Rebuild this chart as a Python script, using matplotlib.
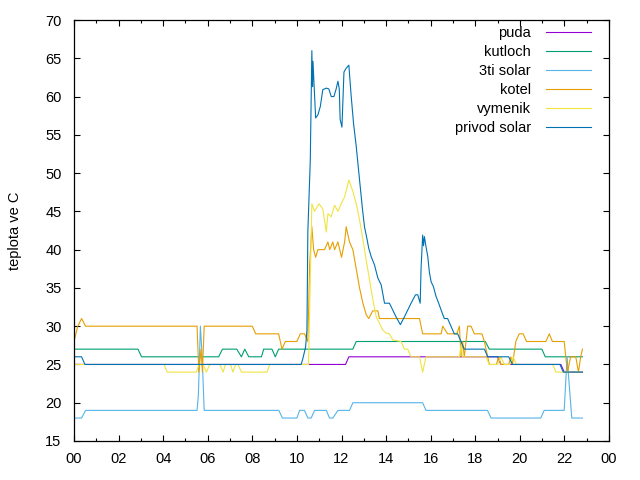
import matplotlib
matplotlib.use("Agg")
import matplotlib.pyplot as plt
from matplotlib.ticker import MultipleLocator

plt.rcParams['font.family'] = ['Liberation Sans', 'DejaVu Sans']

# ---- data (hour of day, temperature in C) ----
puda_t = [0, 12.18, 12.33, 19.0, 19.15, 21.84, 21.99, 22.81]
puda_v = [25, 25, 26, 26, 25, 25, 24, 24]

kutloch_t = [0, 2.87, 3.03, 6.49, 6.66, 7.30, 7.51, 7.66, 7.84, 8.41, 8.51, 8.88, 9.03, 9.18,
             12.51, 12.66, 18.45, 18.63, 20.99, 21.14, 22.81]
kutloch_v = [27, 27, 26, 26, 27, 27, 26, 27, 26, 26, 27, 27, 26, 27,
             27, 28, 28, 27, 27, 26, 26]

solar3_t = [0, 0.34, 0.52, 5.52, 5.58, 5.67, 5.75, 5.84, 9.19, 9.35, 10.0, 10.12, 10.34, 10.49,
            10.64, 10.79, 11.32, 11.46, 11.61, 11.84, 12.36, 12.51, 15.64, 15.79, 18.55, 18.71,
            20.94, 21.09, 21.99, 22.12, 22.33, 22.81]
solar3_v = [18, 18, 19, 19, 21, 30, 26, 19, 19, 18, 18, 19, 19, 18,
            18, 19, 19, 18, 18, 19, 19, 20, 20, 19, 19, 18,
            18, 19, 19, 26, 18, 18]

kotel_t = [0, 0.17, 0.34, 0.52, 5.52, 5.6, 5.7, 5.76, 5.84, 8.0, 8.15, 9.18, 9.33, 9.48,
           10.0, 10.15, 10.34, 10.49, 10.57, 10.67, 10.75, 10.84, 10.94, 11.24, 11.39, 11.47,
           11.61, 11.69, 11.84, 12.0, 12.14, 12.21, 12.36, 12.51, 12.66, 12.81, 12.96, 13.11,
           13.22, 13.4, 13.63, 13.7, 15.5, 15.64, 16.47, 16.54, 16.76, 17.17, 17.29, 17.36,
           17.43, 17.51, 17.66, 17.81, 17.96, 18.3, 18.41, 18.63, 18.95, 19.05, 19.15, 19.5,
           19.6, 19.67, 19.82, 19.97, 20.15, 20.3, 21.17, 21.32, 21.46, 21.99, 22.06, 22.14,
           22.28, 22.51, 22.63, 22.73, 22.81]
kotel_v = [28, 30, 31, 30, 30, 24, 27, 24, 30, 30, 29, 29, 27, 28,
           28, 29, 29, 28, 38, 43, 40, 39, 40, 40, 41, 40,
           41, 40, 41, 39, 41, 43, 41, 40, 37.5, 35, 33, 31.5,
           31, 32, 32, 31, 31, 29, 29, 30, 29, 29, 30, 26,
           28, 26, 30, 30, 29, 29, 28, 25, 25, 26, 25, 25,
           26, 25, 28, 29, 29, 28, 28, 29, 28, 28, 26, 24,
           26, 26, 24, 26, 27]

vymenik_t = [0, 4.04, 4.18, 5.49, 5.6, 5.79, 5.94, 6.09, 6.54, 6.69, 6.79, 7.02, 7.13, 7.25,
             7.36, 7.51, 8.66, 8.78, 10.52, 10.67, 10.79, 10.99, 11.16, 11.32, 11.39, 11.54,
             11.69, 11.84, 11.99, 12.14, 12.33, 12.51, 12.66, 12.81, 12.96, 13.11, 13.26, 13.41,
             13.56, 13.7, 13.85, 14.0, 14.15, 14.3, 14.67, 14.82, 14.97, 15.12, 15.5, 15.64,
             15.79, 17.29, 17.36, 17.43, 18.48, 18.63, 19.0, 19.15, 19.3, 19.55, 19.7, 19.85,
             21.47, 21.62, 22.81]
vymenik_v = [25, 25, 24, 24, 25, 25, 24, 25, 25, 24, 25, 25, 24, 25,
             25, 24, 24, 25, 25, 46, 45, 46, 45.3, 42.3, 44.7, 44.3,
             45.8, 45, 46, 46.9, 49.1, 47.6, 46, 43.9, 41.3, 38.6, 36, 33.4,
             31.2, 30.4, 29.5, 29.1, 29, 28.2, 28, 27, 27, 26, 26, 24,
             26, 26, 27.5, 26, 26, 25, 25, 26, 25, 25, 26, 25,
             25, 24, 24]

privod_t = [0, 0.34, 0.49, 10.19, 10.27, 10.39, 10.45, 10.49, 10.6, 10.67, 10.7, 10.72, 10.84,
            10.94, 11.05, 11.16, 11.32, 11.43, 11.54, 11.66, 11.76, 11.84, 11.9, 11.94, 12.02,
            12.11, 12.21, 12.33, 12.43, 12.54, 12.66, 12.81, 12.93, 13.03, 13.15, 13.22, 13.33,
            13.48, 13.63, 13.78, 13.93, 14.15, 14.3, 14.45, 14.64, 14.82, 14.97, 15.12, 15.32,
            15.42, 15.53, 15.57, 15.64, 15.68, 15.72, 15.79, 15.87, 15.94, 16.02, 16.12, 16.24,
            16.36, 16.47, 16.61, 16.76, 16.91, 17.06, 17.21, 17.36, 17.51, 18.41, 18.56, 19.5,
            19.67, 21.8, 21.95, 22.81]
privod_v = [26, 26, 25, 25, 25.8, 27.3, 29.5, 42.3, 51.7, 66, 61.3, 64.6, 57.2,
            57.6, 58.7, 60.9, 61.1, 61, 60, 60, 61, 62, 61, 57, 56,
            63.2, 63.7, 64.1, 60.2, 56.5, 53.5, 49.1, 45.6, 43, 41.3, 40.2, 39.1,
            38, 36.3, 35.4, 33, 33, 32.1, 31.2, 30.2, 31.2, 32.1, 33, 34.1,
            34.1, 33, 37.6, 41.9, 40.5, 41.7, 40.4, 39.1, 37.1, 35.8, 35.2, 33.9,
            33, 32.1, 31, 31, 30, 29, 29, 28, 27, 27, 26, 26,
            25, 25, 24, 24]

labels = ["puda", "kutloch", "3ti solar", "kotel", "vymenik", "privod solar"]
colors = ["#9400d3", "#009e73", "#56b4e9", "#e69f00", "#f0e442", "#0072b2"]
series = [(puda_t, puda_v), (kutloch_t, kutloch_v), (solar3_t, solar3_v),
          (kotel_t, kotel_v), (vymenik_t, vymenik_v), (privod_t, privod_v)]

xtick_hours = list(range(0, 25, 2))
xtick_labels = [f"{h % 24:02d}" for h in xtick_hours]

fig = plt.figure(figsize=(6.4, 4.8), dpi=100)
ax = fig.add_axes([74 / 640, 1 - 441 / 480, 535 / 640, 421 / 480])

for (t, v), lab, c in zip(series, labels, colors):
    ax.plot(t, v, color=c, lw=0.8, label=lab)

ax.set_xlim(0, 24)
ax.set_ylim(15, 70)
ax.set_xticks(xtick_hours)
ax.set_xticklabels(xtick_labels)
ax.xaxis.set_minor_locator(MultipleLocator(1))
ax.set_yticks(range(15, 71, 5))

ax.tick_params(which='both', direction='in', top=True, right=True, labelsize=10.5,
               color='black', width=0.8)
ax.tick_params(which='major', length=4.5)
ax.tick_params(which='minor', length=2.3)
ax.tick_params(axis='y', pad=9)
ax.tick_params(axis='x', pad=8)
for s in ax.spines.values():
    s.set_linewidth(0.9)

ax.set_ylabel("teplota ve C", fontsize=10.5, va='center')
ax.yaxis.set_label_coords(-(74 - 15) / 535, 0.5)

leg = ax.legend(loc='upper right', frameon=False, markerfirst=False, fontsize=10.5,
                handlelength=3.1, handletextpad=1.0, labelspacing=0.34,
                borderaxespad=0.3, bbox_to_anchor=(1 - 8 / 535, 1.0 + 4 / 421))

fig.savefig("out.png", dpi=100)
